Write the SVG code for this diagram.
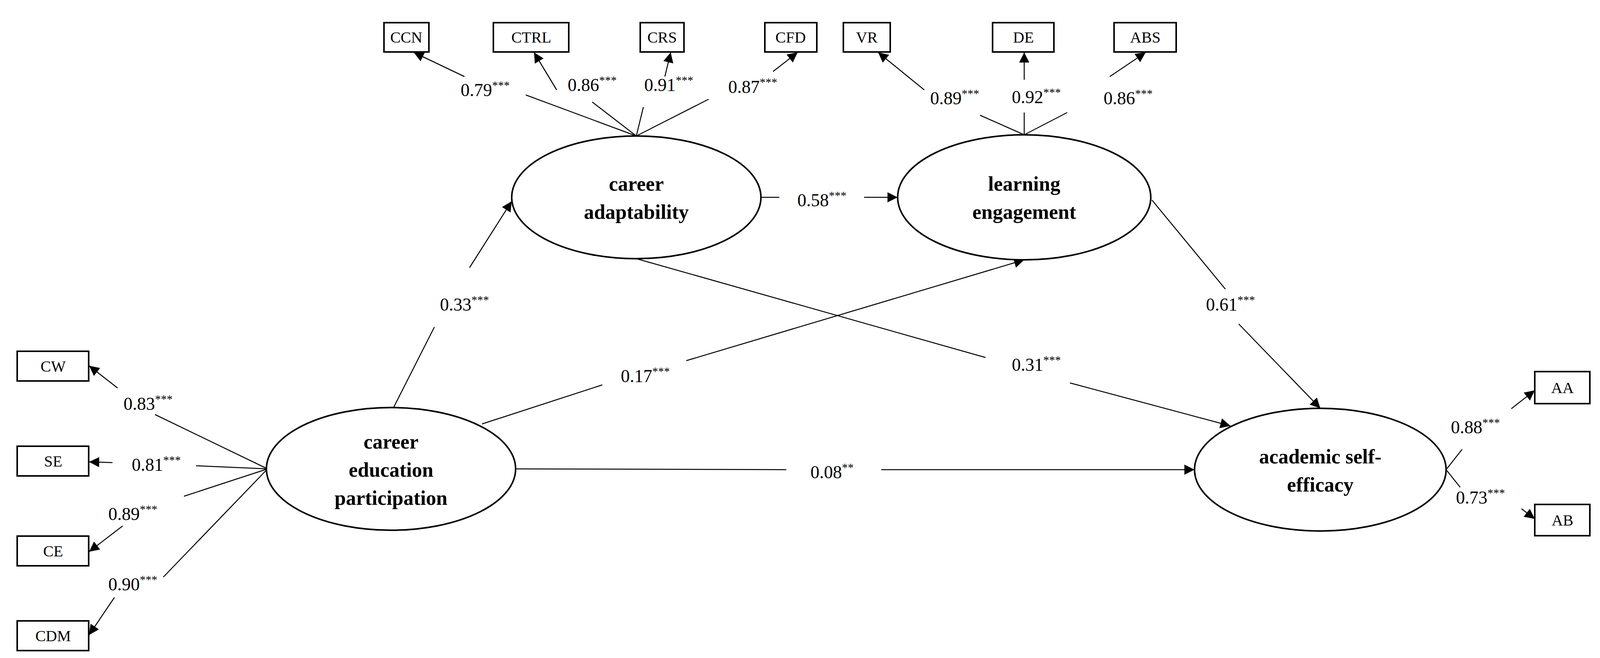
<svg xmlns="http://www.w3.org/2000/svg" width="4099" height="1684" viewBox="0 0 4099 1684">
<style>
.b{fill:#fff;stroke:#000;stroke-width:4}
.e{fill:#fff;stroke:#000;stroke-width:4}
.bt{font-family:"Liberation Serif",serif;font-size:40px;text-anchor:middle}
.nt{font-family:"Liberation Serif",serif;font-size:52px;font-weight:bold;text-anchor:middle}
.lt{font-family:"Liberation Serif",serif;font-size:46px;text-anchor:middle}
.s{font-size:30px}
#conn line{stroke:#000;stroke-width:2.5}
#conn line.a{marker-end:url(#ar)}
</style>
<defs><marker id="ar" viewBox="0 0 10 10" refX="10" refY="5" markerWidth="26" markerHeight="26" markerUnits="userSpaceOnUse" orient="auto"><path d="M0,0L10,5L0,10z"/></marker></defs>
<rect width="4099" height="1684" fill="#fff"/>
<g id="conn">
<line x1="1629" y1="348" x2="1346" y2="243"/><line class="a" x1="1189" y1="196" x2="1059" y2="134"/>
<line x1="1629" y1="348" x2="1516" y2="261"/><line class="a" x1="1425" y1="230" x2="1367" y2="134"/>
<line x1="1629" y1="348" x2="1647" y2="274"/><line class="a" x1="1702" y1="196" x2="1717" y2="134"/>
<line x1="1629" y1="348" x2="1814" y2="254"/><line class="a" x1="1979" y1="183" x2="2042" y2="134"/>
<line x1="2622" y1="345" x2="2509" y2="295"/><line class="a" x1="2366" y1="230" x2="2248" y2="134"/>
<line x1="2622" y1="345" x2="2622" y2="288"/><line class="a" x1="2622" y1="204" x2="2622" y2="134"/>
<line x1="2622" y1="345" x2="2732" y2="288"/><line class="a" x1="2841" y1="196" x2="2933" y2="134"/>
<line x1="1948" y1="505" x2="1995" y2="505"/><line class="a" x1="2212" y1="505" x2="2298" y2="505"/>
<line x1="1006" y1="1046" x2="1112" y2="837"/><line class="a" x1="1202" y1="685" x2="1310" y2="515"/>
<line x1="1234" y1="1085" x2="1542" y2="985"/><line class="a" x1="1757" y1="923" x2="2622" y2="665"/>
<line x1="1629" y1="662" x2="2523" y2="915"/><line class="a" x1="2739" y1="980" x2="3150" y2="1090"/>
<line x1="2949" y1="512" x2="3137" y2="740"/><line class="a" x1="3171" y1="829" x2="3380" y2="1045"/>
<line x1="1320" y1="1200" x2="2013" y2="1202"/><line class="a" x1="2256" y1="1202" x2="3058" y2="1202"/>
<line x1="685" y1="1200" x2="397" y2="1061"/><line class="a" x1="301" y1="993" x2="228" y2="936"/>
<line x1="685" y1="1200" x2="502" y2="1192"/><line class="a" x1="288" y1="1184" x2="228" y2="1182"/>
<line x1="685" y1="1200" x2="471" y2="1270"/><line class="a" x1="314" y1="1346" x2="228" y2="1412"/>
<line x1="685" y1="1200" x2="418" y2="1477"/><line class="a" x1="293" y1="1529" x2="228" y2="1625"/>
<line x1="3702" y1="1202" x2="3743" y2="1150"/><line class="a" x1="3869" y1="1046" x2="3929" y2="999"/>
<line x1="3702" y1="1202" x2="3738" y2="1247"/><line class="a" x1="3895" y1="1302" x2="3929" y2="1328"/>
</g>
<g id="labels">
<text class="lt" x="1242" y="246">0.79<tspan class="s" dy="-18">***</tspan></text>
<text class="lt" x="1516" y="233">0.86<tspan class="s" dy="-18">***</tspan></text>
<text class="lt" x="1712" y="233">0.91<tspan class="s" dy="-18">***</tspan></text>
<text class="lt" x="1927" y="238">0.87<tspan class="s" dy="-18">***</tspan></text>
<text class="lt" x="2444" y="267">0.89<tspan class="s" dy="-18">***</tspan></text>
<text class="lt" x="2653" y="264">0.92<tspan class="s" dy="-18">***</tspan></text>
<text class="lt" x="2888" y="267">0.86<tspan class="s" dy="-18">***</tspan></text>
<text class="lt" x="2104" y="528">0.58<tspan class="s" dy="-18">***</tspan></text>
<text class="lt" x="1189" y="795">0.33<tspan class="s" dy="-18">***</tspan></text>
<text class="lt" x="1652" y="978">0.17<tspan class="s" dy="-18">***</tspan></text>
<text class="lt" x="2653" y="949">0.31<tspan class="s" dy="-18">***</tspan></text>
<text class="lt" x="3150" y="795">0.61<tspan class="s" dy="-18">***</tspan></text>
<text class="lt" x="2130" y="1224">0.08<tspan class="s" dy="-18">**</tspan></text>
<text class="lt" x="379" y="1049">0.83<tspan class="s" dy="-18">***</tspan></text>
<text class="lt" x="400" y="1205">0.81<tspan class="s" dy="-18">***</tspan></text>
<text class="lt" x="340" y="1331">0.89<tspan class="s" dy="-18">***</tspan></text>
<text class="lt" x="340" y="1511">0.90<tspan class="s" dy="-18">***</tspan></text>
<text class="lt" x="3777" y="1109">0.88<tspan class="s" dy="-18">***</tspan></text>
<text class="lt" x="3790" y="1289">0.73<tspan class="s" dy="-18">***</tspan></text>
</g>
<g id="CCN"><rect class="b" x="983" y="58" width="115" height="75"/><text class="bt" x="1040" y="109">CCN</text></g>
<g id="CTRL"><rect class="b" x="1263" y="58" width="193" height="75"/><text class="bt" x="1360" y="109">CTRL</text></g>
<g id="CRS"><rect class="b" x="1639" y="58" width="112" height="75"/><text class="bt" x="1695" y="109">CRS</text></g>
<g id="CFD"><rect class="b" x="1958" y="58" width="133" height="75"/><text class="bt" x="2024" y="109">CFD</text></g>
<g id="VR"><rect class="b" x="2159" y="58" width="120" height="75"/><text class="bt" x="2219" y="109">VR</text></g>
<g id="DE"><rect class="b" x="2541" y="58" width="157" height="75"/><text class="bt" x="2620" y="109">DE</text></g>
<g id="ABS"><rect class="b" x="2852" y="58" width="159" height="75"/><text class="bt" x="2932" y="109">ABS</text></g>
<g id="CW"><rect class="b" x="44" y="899" width="183" height="76"/><text class="bt" x="136" y="951">CW</text></g>
<g id="SE"><rect class="b" x="44" y="1142" width="183" height="76"/><text class="bt" x="136" y="1194">SE</text></g>
<g id="CE"><rect class="b" x="44" y="1372" width="183" height="76"/><text class="bt" x="136" y="1424">CE</text></g>
<g id="CDM"><rect class="b" x="44" y="1589" width="183" height="76"/><text class="bt" x="136" y="1641">CDM</text></g>
<g id="AA"><rect class="b" x="3929" y="951" width="141" height="82"/><text class="bt" x="4000" y="1006">AA</text></g>
<g id="AB"><rect class="b" x="3929" y="1291" width="141" height="80"/><text class="bt" x="4000" y="1345">AB</text></g>
<g id="CA"><ellipse class="e" cx="1629" cy="505" rx="319" ry="157"/><text class="nt" x="1629" y="488">career</text><text class="nt" x="1629" y="560">adaptability</text></g>
<g id="LE"><ellipse class="e" cx="2622" cy="505" rx="324" ry="160"/><text class="nt" x="2622" y="488">learning</text><text class="nt" x="2622" y="560">engagement</text></g>
<g id="CEP"><ellipse class="e" cx="1001" cy="1200" rx="319" ry="157"/><text class="nt" x="1001" y="1148">career</text><text class="nt" x="1001" y="1220">education</text><text class="nt" x="1001" y="1292">participation</text></g>
<g id="ASE"><ellipse class="e" cx="3380" cy="1202" rx="322" ry="157"/><text class="nt" x="3380" y="1186">academic self-</text><text class="nt" x="3380" y="1258">efficacy</text></g>
</svg>
